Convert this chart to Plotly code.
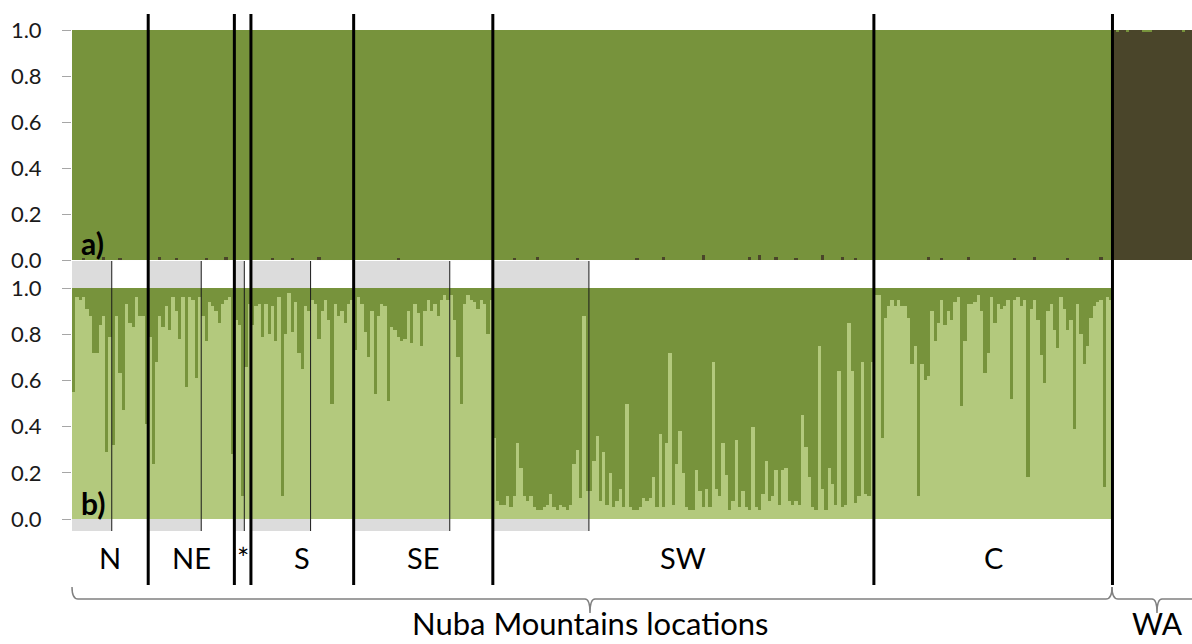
import plotly.graph_objects as go

W, H = 1192, 644
LEFT = 72  # left margin in px (plot area starts here)

# ---- Panel b: light-green cluster proportion per individual, by sampling site ----
N_1 = [0.55, 0.96, 0.95, 0.96, 0.91, 0.88, 0.72, 0.72, 0.84, 0.88, 0.29, 0.79]
N_2 = [0.32, 0.88, 0.63, 0.47, 0.93, 0.85, 0.83, 0.96, 0.88, 0.88, 0.41]
NE_1 = [0.79, 0.24, 0.68, 0.88, 0.83, 0.92, 0.82, 0.96, 0.90, 0.78, 0.96, 0.57,
        0.96, 0.95, 0.61, 0.96]
NE_2 = [0.88, 0.77, 0.94, 0.92, 0.90, 0.85, 0.93, 0.95, 0.96, 0.28]
STAR_1 = [0.86, 0.84, 0.10]
STAR_2 = [0.66, 0.93]
S_1 = [0.84, 0.92, 0.93, 0.79, 0.93, 0.80, 0.92, 0.77, 0.96, 0.10, 0.80, 0.98,
       0.81, 0.94, 0.72, 0.65, 0.92, 0.90]
S_2 = [0.95, 0.93, 0.78, 0.90, 0.95, 0.86, 0.50, 0.93, 0.88, 0.90, 0.85, 0.93,
       0.95]
SE_1 = [0.73, 0.96, 0.93, 0.81, 0.70, 0.90, 0.54, 0.88, 0.93, 0.92, 0.51, 0.83,
        0.82, 0.79, 0.77, 0.78, 0.90, 0.76, 0.93, 0.89, 0.75, 0.90, 0.95, 0.90,
        0.93, 0.88, 0.95, 0.97, 0.95]
SE_2 = [0.97, 0.86, 0.70, 0.50, 0.93, 0.97, 0.95, 0.94, 0.91, 0.95, 0.93, 0.80,
        0.95]
SW_1 = [0.35, 0.08, 0.06, 0.06, 0.10, 0.05, 0.10, 0.33, 0.22, 0.10, 0.08, 0.10,
        0.05, 0.04, 0.04, 0.05, 0.06, 0.11, 0.05, 0.04, 0.06, 0.05, 0.04, 0.06,
        0.24, 0.30, 0.09, 0.88, 0.12]
SW_2 = [0.12, 0.25, 0.36, 0.08, 0.29, 0.06, 0.20, 0.05, 0.08, 0.13, 0.05, 0.50,
        0.05, 0.04, 0.04, 0.05, 0.09, 0.08, 0.09, 0.18, 0.05, 0.37, 0.05, 0.33,
        0.72, 0.06, 0.24, 0.38, 0.20, 0.05, 0.04, 0.04, 0.21, 0.12, 0.05, 0.13,
        0.05, 0.68, 0.13, 0.10, 0.33, 0.19, 0.04, 0.08, 0.34, 0.05, 0.12, 0.05,
        0.04, 0.40, 0.05, 0.04, 0.11, 0.25, 0.08, 0.10, 0.21, 0.06, 0.21, 0.22,
        0.08, 0.06, 0.08, 0.06, 0.45, 0.31, 0.18, 0.05, 0.04, 0.75, 0.13, 0.04,
        0.22, 0.15, 0.06, 0.64, 0.05, 0.06, 0.85, 0.64, 0.07, 0.10, 0.68, 0.11,
        0.10, 0.68]
C_1 = [0.97, 0.97, 0.35, 0.87, 0.92, 0.95, 0.92, 0.95, 0.92, 0.92, 0.87, 0.67,
       0.75, 0.10, 0.67, 0.60, 0.62, 0.90, 0.77, 0.85, 0.95, 0.84, 0.90, 0.86,
       0.94, 0.96, 0.49, 0.77, 0.93, 0.93, 0.94, 0.97, 0.90, 0.63, 0.72, 0.96,
       0.85, 0.93, 0.91, 0.92, 0.95, 0.52, 0.95, 0.96, 0.92, 0.95, 0.18, 0.91,
       0.95, 0.86, 0.71, 0.59, 0.90, 0.93, 0.82, 0.74, 0.96, 0.91, 0.82, 0.86,
       0.39, 0.93, 0.80, 0.67, 0.75, 0.87, 0.92, 0.94, 0.95, 0.14, 0.96, 0.95]

regions = [
    ("N", [N_1, N_2]),
    ("NE", [NE_1, NE_2]),
    ("*", [STAR_1, STAR_2]),
    ("S", [S_1, S_2]),
    ("SE", [SE_1, SE_2]),
    ("SW", [SW_1, SW_2]),
    ("C", [C_1]),
]

# ---- Panel a: dark-brown cluster proportion ----
# Nuba individuals are almost entirely green; a few carry a trace of brown
a_trace_idx = [3, 9, 14, 26, 31, 40, 46, 60, 66, 74, 98, 133, 140, 152, 170,
               178, 190, 204, 207, 212, 218, 226, 232, 236, 258, 262, 270, 284,
               290, 300, 310]
a_trace_val = [0.01, 0.015, 0.01, 0.015, 0.01, 0.01, 0.015, 0.01, 0.01, 0.015,
               0.01, 0.01, 0.015, 0.01, 0.01, 0.015, 0.02, 0.015, 0.02, 0.015,
               0.01, 0.02, 0.015, 0.01, 0.015, 0.01, 0.015, 0.01, 0.015, 0.01,
               0.015]
WA_brown = [1.00, 0.99, 1.00, 1.00, 0.99, 1.00, 1.00, 1.00, 1.00, 0.99, 0.99,
            0.99, 1.00, 1.00, 1.00, 1.00, 1.00, 1.00, 1.00, 1.00, 1.00, 0.99,
            1.00, 1.00]

y_ticks = [0.0, 0.2, 0.4, 0.6, 0.8, 1.0]
y_tick_text = ["0.0", "0.2", "0.4", "0.6", "0.8", "1.0"]

LIGHT = "#B3C97D"
OLIVE = "#77933C"
BROWN = "#4A452A"
BAND = "#DCDCDC"
FONT = "Lato"

# ---- assemble individual order ----
light = []
site_spans = []      # (start, end, shaded)
region_spans = []    # (label, start, end)
i = 0
for name, sites in regions:
    r0 = i
    for k, s in enumerate(sites):
        site_spans.append((i, i + len(s), k == 0 and len(sites) > 1))
        light.extend(s)
        i += len(s)
    region_spans.append((name, r0, i))
n_nuba = i
n_total = n_nuba + len(WA_brown)

brown_a = [0.0] * n_nuba
for j, v in zip(a_trace_idx, a_trace_val):
    brown_a[j] = v
brown_a += WA_brown

x_b = list(range(n_nuba))
x_a = list(range(n_total))


def px(xp):
    return (xp - LEFT) / (W - LEFT)


def py(yp):
    return 1 - yp / H


fig = go.Figure()
# panel b (bottom)
fig.add_bar(x=x_b, y=light, marker=dict(color=LIGHT, line_width=0),
            width=1, xaxis="x", yaxis="y", showlegend=False)
fig.add_bar(x=x_b, y=[1 - v for v in light], marker=dict(color=OLIVE, line_width=0),
            width=1, xaxis="x", yaxis="y", showlegend=False)
# panel a (top)
fig.add_bar(x=x_a, y=brown_a, marker=dict(color=BROWN, line_width=0),
            width=1, xaxis="x", yaxis="y2", showlegend=False)
fig.add_bar(x=x_a, y=[1 - v for v in brown_a], marker=dict(color=OLIVE, line_width=0),
            width=1, xaxis="x", yaxis="y2", showlegend=False)

shapes = []
# alternating site bands above and below panel b
for s0, s1, shaded in site_spans:
    if shaded:
        for (ya, yb) in [(261, 288), (519, 531)]:
            shapes.append(dict(type="rect", xref="x", yref="paper",
                               x0=s0 - 0.5, x1=s1 - 0.5, y0=py(yb), y1=py(ya),
                               fillcolor=BAND, line_width=0, layer="below"))
# thin lines between sites within a region
for (s0, s1, shaded) in site_spans:
    if shaded:
        shapes.append(dict(type="line", xref="x", yref="paper",
                           x0=s1 - 0.5, x1=s1 - 0.5, y0=py(531), y1=py(261),
                           line=dict(color="#1a1a1a", width=1)))
# thick lines between regions
for name, r0, r1 in region_spans:
    shapes.append(dict(type="line", xref="x", yref="paper",
                       x0=r1 - 0.5, x1=r1 - 0.5, y0=py(585), y1=py(14),
                       line=dict(color="black", width=3)))


# curly braces under the groups
def brace(xa, xb, xm, ytop=587, ymid=599, ytip=613):
    p = (f"M {px(xa)} {py(ytop)} Q {px(xa)} {py(ymid)} {px(xa + 6)} {py(ymid)} "
         f"L {px(xm - 5)} {py(ymid)} Q {px(xm)} {py(ymid)} {px(xm)} {py(ytip)} "
         f"Q {px(xm)} {py(ymid)} {px(xm + 5)} {py(ymid)} "
         f"L {px(xb - 6)} {py(ymid)} Q {px(xb)} {py(ymid)} {px(xb)} {py(ytop)}")
    return dict(type="path", xref="paper", yref="paper", path=p,
                line=dict(color="#808080", width=1.5))


shapes.append(brace(72, 1112, 590))
shapes.append(brace(1112, 1200, 1157))

annotations = []
for name, r0, r1 in region_spans:
    annotations.append(dict(x=(r0 + r1 - 1) / 2, y=py(557), xref="x", yref="paper",
                            xanchor="center", yanchor="middle", text=name,
                            showarrow=False,
                            font=dict(family=FONT, size=29, color="black")))
annotations.append(dict(x=px(590), y=py(623), xref="paper", yref="paper",
                        xanchor="center", yanchor="middle",
                        text="Nuba Mountains locations", showarrow=False,
                        font=dict(family=FONT, size=31, color="black")))
annotations.append(dict(x=px(1157), y=py(623), xref="paper", yref="paper",
                        xanchor="center", yanchor="middle", text="WA",
                        showarrow=False,
                        font=dict(family=FONT, size=30, color="black")))
for lab, ycen in [("a)", 243), ("b)", 503)]:
    annotations.append(dict(x=px(79), y=py(ycen), xref="paper", yref="paper",
                            xanchor="left", yanchor="middle",
                            text=f"<b>{lab}</b>", showarrow=False,
                            font=dict(family=FONT, size=30, color="black")))

yax = dict(range=[0, 1], tickvals=y_ticks, ticktext=y_tick_text, ticks="outside",
           ticklen=9, tickcolor="#a6a6a6", tickwidth=1, showgrid=False,
           zeroline=False, showline=False, ticklabelstandoff=16, automargin=False,
           tickfont=dict(family=FONT, size=22, color="#1a1a1a"), fixedrange=True)

fig.update_layout(
    width=W, height=H,
    margin=dict(l=LEFT, r=0, t=0, b=0, autoexpand=False),
    paper_bgcolor="white", plot_bgcolor="white",
    barmode="stack", bargap=0,
    xaxis=dict(range=[-0.5, n_total - 0.5], visible=False, fixedrange=True,
               automargin=False),
    yaxis=dict(domain=[py(519), py(288)], **yax),
    yaxis2=dict(domain=[py(260), py(30)], anchor="x", **yax),
    shapes=shapes, annotations=annotations,
)

fig.write_html("out.html")
